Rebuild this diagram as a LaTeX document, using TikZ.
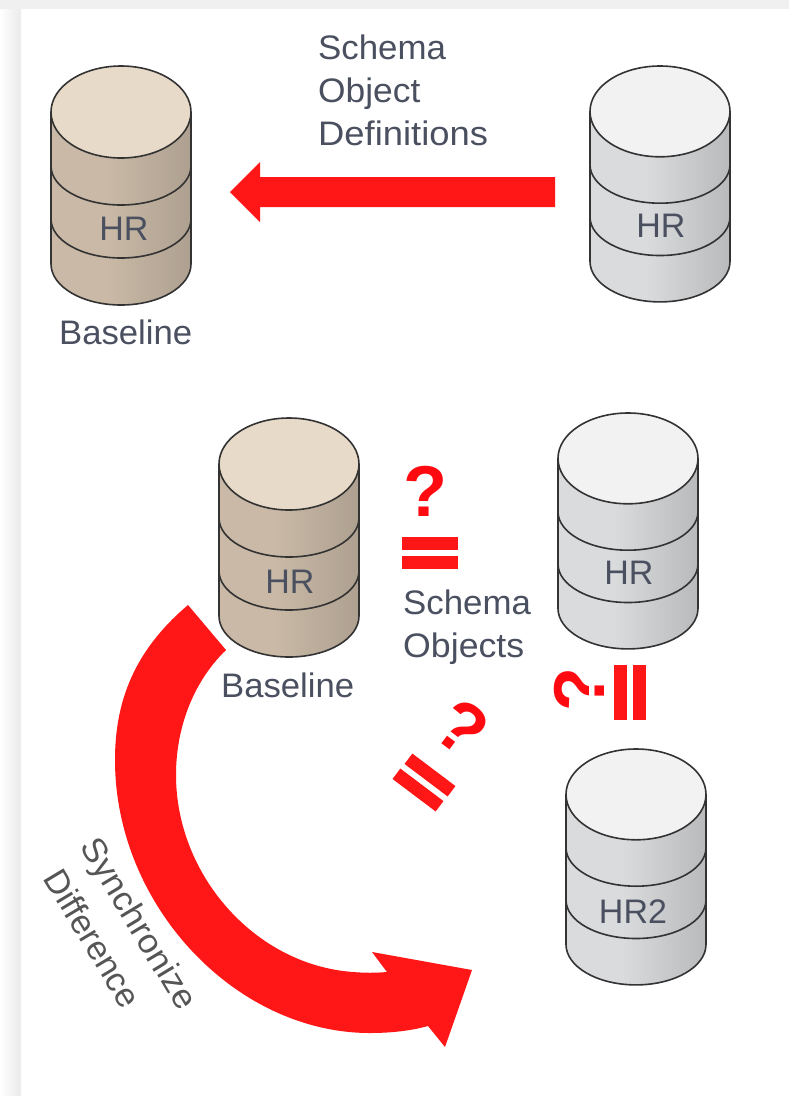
\documentclass[tikz,border=0pt]{standalone}
\usepackage{fontspec}
\setmainfont{Liberation Sans}
\definecolor{txt}{HTML}{4A5060}
\definecolor{rotxt}{HTML}{555555}
\definecolor{arrowred}{HTML}{FF1616}
\definecolor{qred}{HTML}{FF0A10}
\definecolor{toptan}{HTML}{E8DAC9}
\definecolor{topgray}{HTML}{F2F2F3}
\definecolor{tana}{HTML}{C9B9A6}
\definecolor{tanc}{HTML}{AEA090}
\definecolor{graya}{HTML}{DADBDD}
\definecolor{grayc}{HTML}{B9BABC}
\pgfdeclarehorizontalshading{bodytan}{100bp}{
  color(0bp)=(tana);color(45bp)=(tana);color(75bp)=(tanc);color(100bp)=(tanc)}
\pgfdeclarehorizontalshading{bodygray}{100bp}{
  color(0bp)=(graya);color(45bp)=(graya);color(75bp)=(grayc);color(100bp)=(grayc)}
\newcommand{\hs}[2]{\scalebox{#1}[1]{#2}}
\tikzset{
  labeltext/.style={font=\fontsize{34}{34}\selectfont,text=txt,inner sep=0pt},
  rottext/.style={font=\fontsize{34}{34}\selectfont,text=rotxt,inner sep=0pt,rotate=-59},
  bar/.style={fill=arrowred,inner sep=0pt,minimum width=#1,minimum height=13pt},
  qmark/.style={font=\fontsize{72}{72}\selectfont\bfseries,text=qred,inner sep=0pt},
  blockarrow/.style={fill=arrowred,draw=none},
  cyledge/.style={draw=black!80,line width=1.6pt},
}
% #1 centre x, #2 ellipse centre y, #3 body shading, #4 top colour, #5 vertical scale
\newcommand{\cyl}[5]{%
  \begin{scope}[shift={(#1,#2)},yscale=#5]
    \path[shading=#3,shading angle=0] (-70,0) -- (-70,152)
      arc[start angle=180,end angle=360,x radius=70pt,y radius=41pt] -- (70,0) -- cycle;
    \draw[cyledge] (-70,0) -- (-70,152)
      arc[start angle=180,end angle=360,x radius=70pt,y radius=41pt] -- (70,0);
    \draw[cyledge] (-70,54) arc[start angle=180,end angle=360,x radius=70pt,y radius=39pt];
    \draw[cyledge] (-70,107) arc[start angle=180,end angle=360,x radius=70pt,y radius=39pt];
    \draw[cyledge,fill=#4] (0,0) ellipse[x radius=70pt,y radius=46pt];
  \end{scope}}
\begin{document}
\begin{tikzpicture}[x=1pt,y=-1pt]
\path[use as bounding box] (0,0) rectangle (789,1096);
\fill[white] (0,0) rectangle (789,1096);
\fill[left color=white,right color=black!8] (0,0) rectangle (21,1096);
\fill[black!6] (0,0) rectangle (789,9);

\cyl{121}{112}{bodytan}{toptan}{1}
\cyl{660}{111.4}{bodygray}{topgray}{0.987}
\cyl{289}{464}{bodytan}{toptan}{1}
\cyl{628}{458.4}{bodygray}{topgray}{0.987}
\cyl{636}{794.4}{bodygray}{topgray}{0.987}

\node[labeltext,anchor=center] (hra) at (124,229) {HR};
\node[labeltext,anchor=center] (hrb) at (661,226) {HR};
\node[labeltext,anchor=center] (hrc) at (290,582) {HR};
\node[labeltext,anchor=center] (hrd) at (629,573) {HR};
\node[labeltext,anchor=center] (hre) at (633,912) {HR2};

\node[labeltext,anchor=base west] (basea) at (59,344) {\hs{1.02}{Baseline}};
\node[labeltext,anchor=base west] (basec) at (221,697) {\hs{1.02}{Baseline}};
\node[labeltext,anchor=base west] (defa) at (318,59) {\hs{1.025}{Schema}};
\node[labeltext,anchor=base west] (defb) at (318,102) {\hs{1.04}{Object}};
\node[labeltext,anchor=base west] (defc) at (318,145) {\hs{1.07}{Definitions}};
\node[labeltext,anchor=base west] (objsa) at (403,614) {\hs{1.025}{Schema}};
\node[labeltext,anchor=base west] (objsb) at (403,657) {\hs{1.05}{Objects}};

\node[rottext] (sync) at (137,925) {\hs{1.03}{Synchronize}};
\node[rottext] (diff) at (93,938) {Difference};

% straight block arrow
\fill[blockarrow] (230,192) -- (260,162) -- (260,177) -- (555,177) -- (555,207) -- (260,207) -- (260,222) -- cycle;

% curved block arrow
\fill[blockarrow] (188,605) .. controls (135,650) and (115,700) .. (115,760)
   .. controls (115,905) and (235,1033) .. (370,1033)
   .. controls (390,1033) and (410,1031) .. (428,1026)
   -- (445,1047) -- (472,970) -- (372,952) -- (387,972)
   .. controls (375,973) and (365,973) .. (353,972)
   .. controls (255,965) and (176,875) .. (176,775)
   .. controls (176,725) and (195,680) .. (226,650) -- cycle;

% question marks and equals signs
\node[qmark] (qa) at (425,491) {?};
\node[bar=56pt] (eqa1) at (430,543.5) {};
\node[bar=56pt] (eqa2) at (430,562.5) {};

\node[qmark,rotate=90] (qb) at (579,689) {?};
\node[bar=55pt,rotate=90] (eqb1) at (620,692.5) {};
\node[bar=55pt,rotate=90] (eqb2) at (639,692.5) {};

\node[qmark,rotate=-37] (qc) at (462,728) {?};
\node[bar=54pt,rotate=-37] (eqc1) at (430,775) {};
\node[bar=54pt,rotate=-37] (eqc2) at (418,790) {};
\end{tikzpicture}
\end{document}
